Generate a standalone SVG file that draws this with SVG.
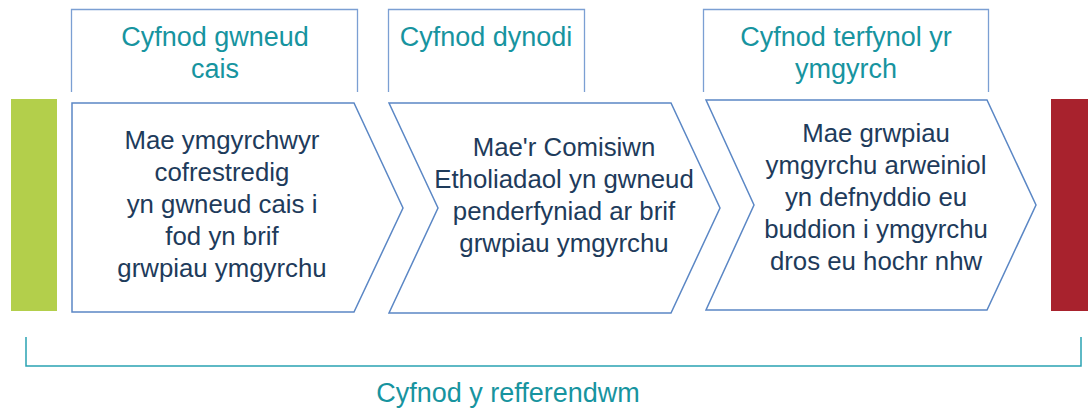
<svg xmlns="http://www.w3.org/2000/svg" width="1088" height="409" viewBox="0 0 1088 409">
<style>
.hdr{fill:none;stroke:#7b9fd3;stroke-width:1.3}
.chev{fill:#fff;stroke:#5b87c5;stroke-width:1.5}
.ht{font-family:"Liberation Sans",Arial,sans-serif;font-size:27px;fill:#17949f;text-anchor:middle}
.bt{font-family:"Liberation Sans",Arial,sans-serif;font-size:25.8px;fill:#1e3b5b;text-anchor:middle}
</style>
<rect width="1088" height="409" fill="#fff"/>
<g id="start-bar"><rect x="11" y="99" width="46" height="212" fill="#b3cf4b"/></g>
<g id="end-bar"><rect x="1051" y="99" width="37" height="212" fill="#a8222d"/></g>
<g id="header1">
<path class="hdr" d="M71.5,92 V9.5 H357.5 V92"/>
<text class="ht" x="215" y="46">Cyfnod gwneud</text>
<text class="ht" x="215" y="78">cais</text>
</g>
<g id="header2">
<path class="hdr" d="M388.5,92 V9.5 H584.5 V92"/>
<text class="ht" x="486" y="46">Cyfnod dynodi</text>
</g>
<g id="header3">
<path class="hdr" d="M703.5,92 V9.5 H988.5 V92"/>
<text class="ht" x="846" y="46">Cyfnod terfynol yr</text>
<text class="ht" x="846" y="78">ymgyrch</text>
</g>
<g id="step1">
<polygon class="chev" points="72,103 354,103 403,208 354,312 72,312"/>
<text class="bt" x="222" y="149">Mae ymgyrchwyr</text>
<text class="bt" x="222" y="181">cofrestredig</text>
<text class="bt" x="222" y="213">yn gwneud cais i</text>
<text class="bt" x="222" y="245">fod yn brif</text>
<text class="bt" x="222" y="277">grwpiau ymgyrchu</text>
</g>
<g id="step2">
<polygon class="chev" points="389,103 671,103 720,208 671,313 389,313 438,208"/>
<text class="bt" x="564" y="156">Mae'r Comisiwn</text>
<text class="bt" x="564" y="188">Etholiadaol yn gwneud</text>
<text class="bt" x="564" y="220">penderfyniad ar brif</text>
<text class="bt" x="564" y="252">grwpiau ymgyrchu</text>
</g>
<g id="step3">
<polygon class="chev" points="706,100 987,100 1036,205 987,310 706,310 754,205"/>
<text class="bt" x="876" y="142">Mae grwpiau</text>
<text class="bt" x="876" y="174">ymgyrchu arweiniol</text>
<text class="bt" x="876" y="206">yn defnyddio eu</text>
<text class="bt" x="876" y="238">buddion i ymgyrchu</text>
<text class="bt" x="876" y="270">dros eu hochr nhw</text>
</g>
<g id="connectors">
<path d="M26,337 V366 H1081 V337" fill="none" stroke="#2aa3b2" stroke-width="1.5"/>
</g>
<g id="period-label">
<text class="ht" x="508" y="402">Cyfnod y refferendwm</text>
</g>
</svg>
